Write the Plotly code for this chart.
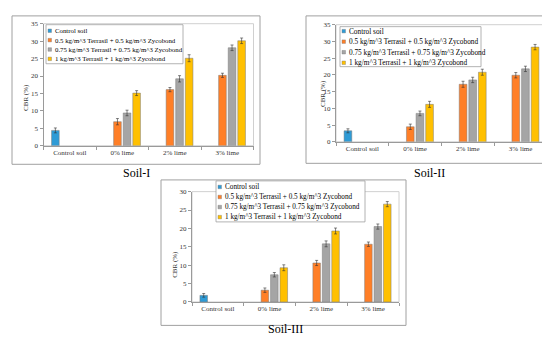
import plotly.graph_objects as go

W, H = 550, 337

categories = ["Control soil", "0% lime", "2% lime", "3% lime"]
series_names = [
    "Control soil",
    "0.5 kg/m^3 Terrasil + 0.5 kg/m^3 Zycobond",
    "0.75 kg/m^3 Terrasil + 0.75 kg/m^3 Zycobond",
    "1 kg/m^3 Terrasil + 1 kg/m^3 Zycobond",
]
colors = ["#2E9BD6", "#FF7F27", "#A5A5A5", "#FFC000"]
panel_titles = ["Soil-I", "Soil-II", "Soil-III"]
y_title = "CBR (%)"

# Soil-I values (CBR %)
soil1_control = [4.4, None, None, None]
soil1_t05 = [None, 6.9, 16.1, 20.2]
soil1_t075 = [None, 9.4, 19.2, 28.1]
soil1_t1 = [None, 15.1, 25.1, 30.1]
soil1_err_control = [0.7, 0, 0, 0]
soil1_err_t05 = [0, 0.9, 0.6, 0.6]
soil1_err_t075 = [0, 0.8, 0.9, 0.8]
soil1_err_t1 = [0, 0.7, 1.0, 0.8]

# Soil-II values
soil2_control = [3.3, None, None, None]
soil2_t05 = [None, 4.5, 17.2, 19.9]
soil2_t075 = [None, 8.5, 18.5, 21.8]
soil2_t1 = [None, 11.2, 20.8, 28.3]
soil2_err_control = [0.6, 0, 0, 0]
soil2_err_t05 = [0, 0.8, 0.9, 0.8]
soil2_err_t075 = [0, 0.7, 0.8, 0.8]
soil2_err_t1 = [0, 0.9, 0.9, 0.8]

# Soil-III values
soil3_control = [1.8, None, None, None]
soil3_t05 = [None, 3.2, 10.6, 15.7]
soil3_t075 = [None, 7.4, 15.8, 20.5]
soil3_t1 = [None, 9.3, 19.3, 26.6]
soil3_err_control = [0.5, 0, 0, 0]
soil3_err_t05 = [0, 0.6, 0.7, 0.6]
soil3_err_t075 = [0, 0.6, 0.8, 0.7]
soil3_err_t1 = [0, 0.8, 0.8, 0.7]

y_ticks_12 = [0, 5, 10, 15, 20, 25, 30, 35]
y_ticks_3 = [0, 5, 10, 15, 20, 25, 30]

panels = [
    dict(series=[soil1_control, soil1_t05, soil1_t075, soil1_t1],
         errs=[soil1_err_control, soil1_err_t05, soil1_err_t075, soil1_err_t1],
         ticks=y_ticks_12),
    dict(series=[soil2_control, soil2_t05, soil2_t075, soil2_t1],
         errs=[soil2_err_control, soil2_err_t05, soil2_err_t075, soil2_err_t1],
         ticks=y_ticks_12),
    dict(series=[soil3_control, soil3_t05, soil3_t075, soil3_t1],
         errs=[soil3_err_control, soil3_err_t05, soil3_err_t075, soil3_err_t1],
         ticks=y_ticks_3),
]

# ---- layout geometry (pixels) ----
plot_px = [  # x0, x1, ytop, ybottom of plot area
    (35.5, 245.5, 12, 137),
    (328, 539, 13, 133),
    (184, 391, 184, 297),
]
frame_px = [(4, 4, 252, 156), (298, 4, 544, 155), (153, 172, 398, 321)]
title_px = [(128, 165), (422, 165), (277, 325)]
ytitle_px = [(18, 88), (315, 84), (167, 259)]
legend_px = [  # box x0, y0, x1, y1, first row y, row step, font size
    (38, 13, 175, 53, 19.2, 9.6, 6.8),
    (332, 15, 473, 56, 19.6, 10.8, 7.3),
    (208, 173, 357, 215, 179.2, 10.3, 7.2),
]

FONT = "Liberation Serif, Times New Roman, serif"


def px(x):
    return x / W


def py(y):
    return 1 - y / H


fig = go.Figure()
shapes = []
annotations = []

for i, p in enumerate(panels):
    sfx = "" if i == 0 else str(i + 1)
    xa, ya = "x" + sfx, "y" + sfx
    for k in range(4):
        fig.add_trace(go.Bar(
            x=categories, y=p["series"][k], name=series_names[k],
            xaxis=xa, yaxis=ya, showlegend=False,
            marker=dict(color=colors[k], line=dict(color="#7a7a7a", width=0.5)),
            error_y=dict(type="data", array=p["errs"][k], visible=True,
                         color="#333333", thickness=0.6, width=1.5),
        ))
    x0, x1, yt, yb = plot_px[i]
    axis_common = dict(showgrid=False, zeroline=False, showline=True,
                       linecolor="#9a9a9a", linewidth=1,
                       ticks="outside", tickcolor="#9a9a9a", ticklen=3,
                       tickfont=dict(family=FONT, size=7, color="#333333"))
    fig.layout["xaxis" + sfx] = dict(
        domain=[px(x0), px(x1)], anchor=ya, type="category",
        tickson="boundaries", **axis_common)
    fig.layout["yaxis" + sfx] = dict(
        domain=[py(yb), py(yt)], anchor=xa,
        range=[0, max(p["ticks"])], tickvals=p["ticks"], **axis_common)
    # plot-area border
    shapes.append(dict(type="rect", xref=xa + " domain", yref=ya + " domain",
                       x0=0, x1=1, y0=0, y1=1,
                       line=dict(color="#d0d0d0", width=1), layer="below"))
    # outer frame
    fx0, fy0, fx1, fy1 = frame_px[i]
    shapes.append(dict(type="rect", xref="paper", yref="paper",
                       x0=px(fx0), x1=px(fx1), y0=py(fy1), y1=py(fy0),
                       line=dict(color="#a0a0a0", width=1)))
    # panel title
    tx, ty = title_px[i]
    annotations.append(dict(text=panel_titles[i], x=px(tx), y=py(ty),
                            xref="paper", yref="paper", showarrow=False,
                            xanchor="center", yanchor="middle", borderpad=0,
                            font=dict(family=FONT, size=12, color="#000")))
    # y-axis title
    ax, ay = ytitle_px[i]
    annotations.append(dict(text=y_title, x=px(ax), y=py(ay),
                            xref="paper", yref="paper", showarrow=False,
                            textangle=-90, xanchor="center", yanchor="middle",
                            font=dict(family=FONT, size=7, color="#333333")))
    # custom legend
    lx0, ly0, lx1, ly1, r0, step, fs = legend_px[i]
    shapes.append(dict(type="rect", xref="paper", yref="paper",
                       x0=px(lx0), x1=px(lx1), y0=py(ly1), y1=py(ly0),
                       fillcolor="white", line=dict(color="#a0a0a0", width=0.8)))
    for k in range(4):
        ry = r0 + k * step
        shapes.append(dict(type="rect", xref="paper", yref="paper",
                           x0=px(lx0 + 2), x1=px(lx0 + 5.5),
                           y0=py(ry + 1.8), y1=py(ry - 1.8),
                           fillcolor=colors[k], line=dict(color="#7a7a7a", width=0.4)))
        annotations.append(dict(text=series_names[k], x=px(lx0 + 6.5), y=py(ry),
                                xref="paper", yref="paper", showarrow=False,
                                xanchor="left", yanchor="middle",
                                font=dict(family=FONT, size=fs, color="#000")))

fig.update_layout(
    width=W, height=H, margin=dict(l=0, r=0, t=0, b=0),
    paper_bgcolor="white", plot_bgcolor="white",
    barmode="group", bargap=0.27, bargroupgap=0.2,
    shapes=shapes, annotations=annotations, showlegend=False,
)

fig.write_html("out.html")
